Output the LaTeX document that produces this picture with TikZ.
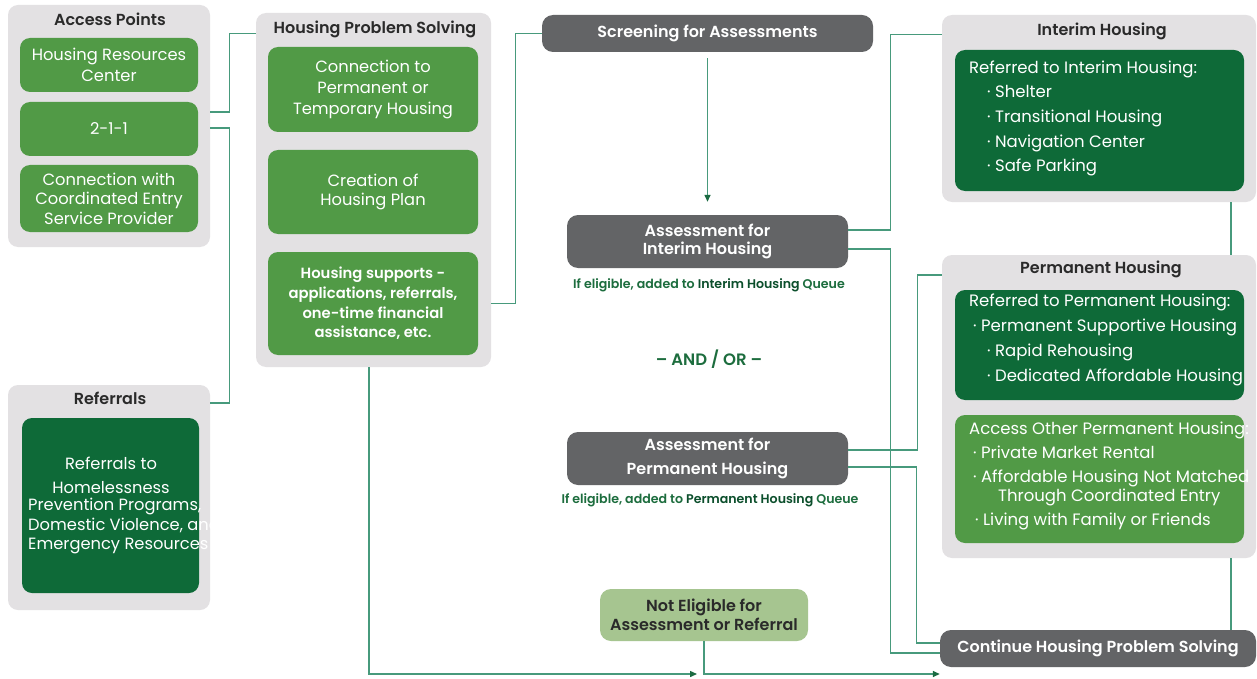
\documentclass[tikz,border=0pt]{standalone}
\usepackage{fontspec}
\setmainfont{Poppins}[BoldFont={Poppins SemiBold}]
\usetikzlibrary{arrows.meta,calc}
\definecolor{lgray}{HTML}{E3E1E3}
\definecolor{mgreen}{HTML}{519A46}
\definecolor{dgreen}{HTML}{0E6A38}
\definecolor{dgray}{HTML}{636466}
\definecolor{pgreen}{HTML}{A6C590}
\definecolor{lnk}{HTML}{479A7C}
\definecolor{tipc}{HTML}{1B6B42}
\definecolor{lblg}{HTML}{1D6D3E}
\definecolor{lbld}{HTML}{0C4F2C}
\definecolor{ttl}{HTML}{2A2A2A}
\begin{document}
\begin{tikzpicture}[x=1pt,y=-1pt,
  panel/.style={fill=lgray, rounded corners=10pt, inner sep=0pt},
  mbox/.style={fill=mgreen, text=white, rounded corners=10pt, inner sep=0pt, align=center, font=\fontsize{16.3}{20.5}\selectfont},
  dbox/.style={fill=dgreen, text=white, rounded corners=10pt, inner sep=0pt, align=center, font=\fontsize{16.3}{20.5}\selectfont},
  gbox/.style={fill=dgray, text=white, rounded corners=11pt, inner sep=0pt, align=center, font=\bfseries\fontsize{16}{19}\selectfont},
  ttlnode/.style={text=ttl, inner sep=0pt, font=\bfseries\fontsize{16}{18}\selectfont},
  listtext/.style={text=white, inner sep=0pt, align=left, anchor=west, font=\fontsize{16.5}{24.7}\selectfont},
  qlabel/.style={text=lblg, inner sep=0pt, font=\bfseries\fontsize{12.6}{14}\selectfont},
  conn/.style={draw=lnk, line width=1.4pt},
  arr/.style={conn, -{Triangle[length=7pt,width=6pt,color=tipc]}}
]
\fill[white] (0,0) rectangle (1257,679);
\useasboundingbox (0,0) rectangle (1257,679);

% Access points
\node[panel, minimum width=202pt, minimum height=242pt] (acc) at (109,126) {};
\node[ttlnode] (accT) at (110,19) {Access Points};
\node[mbox, minimum width=178pt, minimum height=54pt] (hrc) at (109,65) {Housing Resources\\Center};
\node[mbox, minimum width=178pt, minimum height=54pt] (b211) at (109,129) {2-1-1};
\node[mbox, minimum width=178pt, minimum height=67pt, font=\fontsize{16.3}{19.5}\selectfont] (cesp) at (109,198.5) {Connection with\\Coordinated Entry\\Service Provider};

% Referrals
\node[panel, minimum width=202pt, minimum height=225pt] (ref) at (109,497.5) {};
\node[ttlnode] (refT) at (110,398) {Referrals};
\node[dbox, minimum width=177pt, minimum height=175pt] (refB) at (110.5,505.5) {};
\begin{scope}
\clip (0,380) rectangle (214,615);
\node[text=white, inner sep=0pt, align=center, font=\fontsize{16.3}{24}\selectfont] (refTx) at (111,475) {Referrals to\\Homelessness};
\node[text=white, inner sep=0pt, align=left, anchor=west, font=\fontsize{16.3}{19.2}\selectfont] (refTy) at (28,526) {Prevention Programs,\\Domestic Violence, and\\Emergency Resources};
\end{scope}

% Housing problem solving
\node[panel, minimum width=235pt, minimum height=354pt] (hps) at (373.5,190) {};
\node[ttlnode] (hpsT) at (375,29) {Housing Problem Solving};
\node[mbox, minimum width=210pt, minimum height=85pt] (hp1) at (373,89.5) {Connection to\\Permanent or\\Temporary Housing};
\node[mbox, minimum width=210pt, minimum height=84pt, font=\fontsize{16.3}{18.5}\selectfont] (hp2) at (373,192) {Creation of\\Housing Plan};
\node[mbox, minimum width=210pt, minimum height=103pt, font=\bfseries\fontsize{14.8}{19.7}\selectfont] (hp3) at (373,303.5) {Housing supports -\\applications, referrals,\\one-time financial\\assistance, etc.};

% Middle column
\node[gbox, minimum width=331pt, minimum height=37pt] (scr) at (707.5,33.5) {Screening for Assessments};
\node[gbox, minimum width=281pt, minimum height=53pt, font=\bfseries\fontsize{16}{18.5}\selectfont] (ai) at (707.5,241.5) {Assessment for\\Interim Housing};
\node[qlabel] (aiL) at (709,285) {If eligible, added to \textcolor{lbld}{Interim Housing} Queue};
\node[text=lblg, inner sep=0pt, font=\bfseries\fontsize{16.5}{18}\selectfont] (andor) at (709,359) {– AND / OR –};
\node[gbox, minimum width=281pt, minimum height=53pt, font=\bfseries\fontsize{16}{24}\selectfont] (apm) at (707.5,458.5) {Assessment for\\Permanent Housing};
\node[qlabel] (apL) at (710,500) {If eligible, added to \textcolor{lbld}{Permanent Housing} Queue};
\node[fill=pgreen, text=ttl, rounded corners=11pt, inner sep=0pt, align=center, minimum width=208pt, minimum height=52pt, font=\bfseries\fontsize{16}{19}\selectfont] (ne) at (704,615) {Not Eligible for\\Assessment or Referral};

% Interim housing
\node[panel, minimum width=314pt, minimum height=187pt] (ih) at (1099,108.5) {};
\node[ttlnode] (ihT) at (1102,31) {Interim Housing};
\node[dbox, minimum width=289pt, minimum height=141pt] (ihB) at (1099.5,120.5) {};
\node[listtext] (ihTx) at (969,118.5) {Referred to Interim Housing:\\\hspace*{18pt}· Shelter\\\hspace*{18pt}· Transitional Housing\\\hspace*{18pt}· Navigation Center\\\hspace*{18pt}· Safe Parking};

% Permanent housing
\node[panel, minimum width=314pt, minimum height=303pt] (ph) at (1099,406.5) {};
\node[ttlnode] (phT) at (1101,269) {Permanent Housing};
\node[dbox, minimum width=289pt, minimum height=110pt] (phB) at (1099.5,345) {};
\node[listtext, font=\fontsize{16.5}{25}\selectfont] (phTx) at (969,339.5) {Referred to Permanent Housing:\\\hspace*{4pt}· Permanent Supportive Housing\\\hspace*{18pt}· Rapid Rehousing\\\hspace*{18pt}· Dedicated Affordable Housing};
\node[mbox, minimum width=289pt, minimum height=128pt] (phC) at (1099.5,479) {};
\node[listtext, font=\fontsize{16.5}{24}\selectfont] (phCx) at (969,475.5) {Access Other Permanent Housing:\\\hspace*{4pt}· Private Market Rental\\\hspace*{4pt}· Affordable Housing Not Matched\\[-5pt]\hspace*{29pt}Through Coordinated Entry\\\hspace*{6pt}· Living with Family or Friends};

% Continue
\node[gbox, minimum width=316pt, minimum height=37pt] (chps) at (1098,648.5) {Continue Housing Problem Solving};

% end points of bottom arrows
\coordinate (e1) at (697,674);
\coordinate (e2) at (940,674);

% Connectors
\draw[conn] ([yshift=14pt]acc.east) -- ++(19,0) |- (hps.west |- scr.west);
\draw[conn] ([yshift=-2pt]acc.east) -- ++(19,0) |- ([yshift=-18pt]ref.north east);
\draw[conn] (hps.east |- hp3.east) -- ++(24,0) |- (scr.west);
\draw[arr] ([yshift=-6pt]scr.south) -- ([yshift=13pt]ai.north);
\draw[conn] ([yshift=11.5pt]ai.east) -- ++(42,0) |- ([yshift=-20pt]ih.north west);
\draw[conn] ([yshift=-7.5pt]ai.east) -- ++(42,0) |- ([yshift=-4.5pt]chps.west);
\draw[conn] ([yshift=8.5pt]apm.east) -- ++(69,0) |- ([yshift=-20pt]ph.north west);
\draw[conn] ([yshift=-8.5pt]apm.east) -- ++(68,0) |- ([yshift=5.5pt]chps.west);
\draw[conn] ([xshift=132pt]ih.south) -- ([xshift=132pt]ih.south |- ph.north);
\draw[conn] ([xshift=132pt]ph.south) -- ([xshift=132pt]ph.south |- chps.north);
\draw[arr] ([xshift=-4.5pt]hps.south) |- (e1);
\draw[arr] (ne.south) |- (chps.west |- e2);
\end{tikzpicture}
\end{document}
